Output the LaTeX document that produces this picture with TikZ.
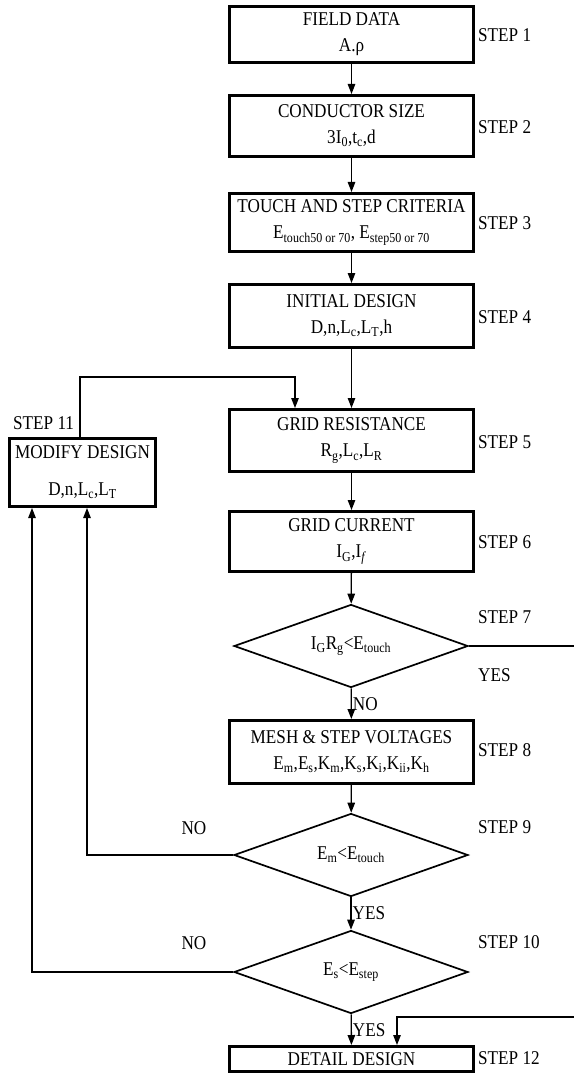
\documentclass[tikz,border=0pt]{standalone}
\usepackage{fontspec}
\setmainfont{Liberation Serif}[FakeStretch=0.88]
\usepackage{tikz}
\usetikzlibrary{shapes.geometric,arrows.meta}
\tikzset{
  box/.style={draw,line width=3pt,minimum width=244pt,inner sep=1pt,align=center},
  decision/.style={draw,diamond,line width=1.7pt,minimum width=234pt,minimum height=83pt,inner sep=0pt,aspect=2.8},
  steplbl/.style={anchor=west,inner sep=0pt},
  flow/.style={-{Triangle[length=10pt,width=7.5pt]},line width=1.3pt},
  link/.style={line width=1.3pt}
}

\begin{document}
\begin{tikzpicture}[x=1pt,y=-1pt,font=\fontsize{19.5}{26}\selectfont]
    \useasboundingbox (0,0) rectangle (573,1075);
    % main column
    \node[box,minimum height=56pt] (b1) at (351.5,34.5) {FIELD DATA\\A.ρ};
    \node[box,minimum height=61pt] (b2) at (351.5,126) {CONDUCTOR SIZE\\3I\textsubscript{0},t\textsubscript{c},d};
    \node[box,minimum height=58pt] (b3) at (351.5,222.5) {TOUCH AND STEP CRITERIA\\E\textsubscript{touch50 or 70}, E\textsubscript{step50 or 70}};
    \node[box,minimum height=63pt] (b4) at (351.5,316) {INITIAL DESIGN\\D,n,L\textsubscript{c},L\textsubscript{T},h};
    \node[box,minimum height=62pt] (b5) at (351.5,440.5) {GRID RESISTANCE\\R\textsubscript{g},L\textsubscript{c},L\textsubscript{R}};
    \node[box,minimum height=60pt] (b6) at (351.5,541.5) {GRID CURRENT\\I\textsubscript{G},I\textsubscript{\textit{f}}};
    \node[decision] (d7) at (351,646) {I\textsubscript{G}R\textsubscript{g}<E\textsubscript{touch}};
    \node[box,minimum height=63pt] (b8) at (351.5,752) {MESH \& STEP VOLTAGES\\E\textsubscript{m},E\textsubscript{s},K\textsubscript{m},K\textsubscript{s},K\textsubscript{i},K\textsubscript{ii},K\textsubscript{h}};
    \node[decision] (d9) at (351,855) {E\textsubscript{m}<E\textsubscript{touch}};
    \node[decision] (d10) at (351,972) {E\textsubscript{s}<E\textsubscript{step}};
    \node[box,minimum height=25pt] (b12) at (351.5,1059) {DETAIL DESIGN};
    % side box
    \node[box,minimum width=146pt,minimum height=68pt,inner sep=0pt] (b11) at (82.5,472.5) {MODIFY DESIGN\\[11pt]D,n,L\textsubscript{c},L\textsubscript{T}};

    % step labels
    \node[steplbl] (s1) at (478,35) {STEP 1};
    \node[steplbl] (s2) at (478,127) {STEP 2};
    \node[steplbl] (s3) at (478,223) {STEP 3};
    \node[steplbl] (s4) at (478,317) {STEP 4};
    \node[steplbl] (s5) at (478,442) {STEP 5};
    \node[steplbl] (s6) at (478,542) {STEP 6};
    \node[steplbl] (s7) at (478,617) {STEP 7};
    \node[steplbl] (s8) at (478,750) {STEP 8};
    \node[steplbl] (s9) at (478,827) {STEP 9};
    \node[steplbl] (s10) at (478,942) {STEP 10};
    \node[steplbl] (s12) at (478,1058) {STEP 12};
    \node[steplbl] (s11) at (13,423) {STEP 11};
    \node[steplbl] (yes7) at (478,675) {YES};
    \node (no9) at (194,828) {NO};
    \node (no10) at (194,943) {NO};

    % turning points
    \coordinate (fb) at (295,377);
    \coordinate (x9) at (87,855);
    \coordinate (x10) at (32,972);
    \coordinate (rc) at (575,1017);
    \coordinate (j12) at (397,1017);

    % connectors
    \draw[flow] (b1) -- (b2);
    \draw[flow] (b2) -- (b3);
    \draw[flow] (b3) -- (b4);
    \draw[flow] (b4) -- (b5);
    \draw[flow] (b5) -- (b6);
    \draw[flow] (b6) -- (d7);
    \draw[flow] (d7) -- node[right,inner sep=1pt]{NO} (b8);
    \draw[flow] (b8) -- (d9);
    \draw[flow] (d9) -- node[right,inner sep=1pt]{YES} (d10);
    \draw[flow] (d10) -- node[right,inner sep=1pt]{YES} (b12);
    \draw[flow] (b11.north -| 80,0) |- (fb) -- (fb |- b5.north);
    \draw[flow] (d9.west) -- (x9) -- (x9 |- b11.south);
    \draw[flow] (d10.west) -- (x10) -- (x10 |- b11.south);
    \draw[flow] (d7.east) -| (rc) -- (j12) -- (j12 |- b12.north);
\end{tikzpicture}
\end{document}
